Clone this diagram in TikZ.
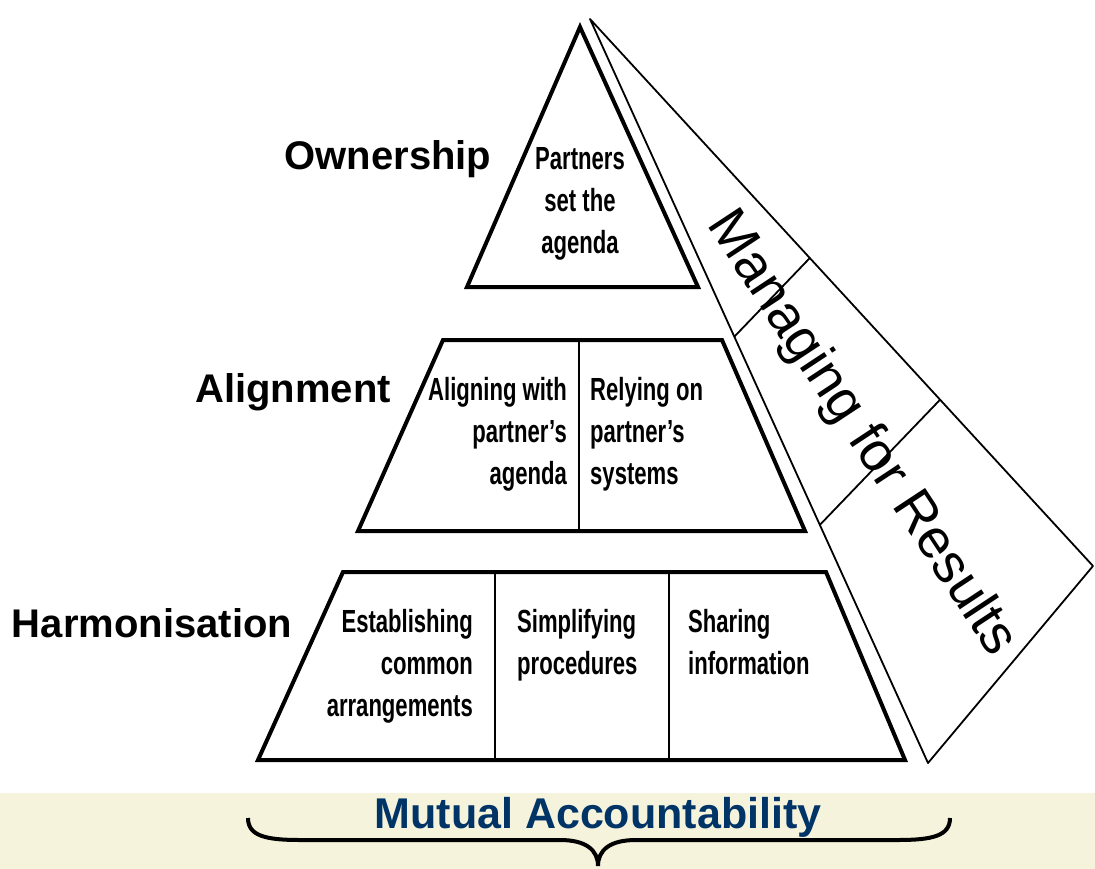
\documentclass[tikz,border=0pt]{standalone}
\usepackage{fontspec}
\setmainfont{Liberation Sans}
\newfontfamily\narrowbf[FakeStretch=0.69]{Liberation Sans Bold}
\usetikzlibrary{calc}
\definecolor{bandbg}{RGB}{245,243,220}
\definecolor{navy}{RGB}{0,51,102}
\tikzset{
  block/.style={line width=4pt},
  faceline/.style={line width=1.8pt},
  cell/.style={font=\narrowbf\fontsize{32}{42}\selectfont, inner sep=0pt},
  level/.style={font=\bfseries\fontsize{40}{48}\selectfont, inner sep=0pt, anchor=base},
}
\begin{document}
\begin{tikzpicture}[x=1pt,y=-1pt]
\useasboundingbox (0,0) rectangle (1095,869);
\fill[bandbg] (0,793) rectangle (1095,869);

% pyramid levels
\draw[block] (580,27) -- (698,287) -- (467,287) -- cycle;
\draw[block] (443,340) -- (722,340) -- (805,531) -- (358,531) -- cycle;
\draw[faceline] (579,340) -- (579,531);
\draw[block] (343,572) -- (826,572) -- (905,760) -- (258,760) -- cycle;
\draw[faceline] (495,572) -- (495,760) (669,572) -- (669,760);

% side face
\coordinate (top) at (590,19);
\coordinate (fl) at (928,763);
\coordinate (fr) at (1093,566);
\draw[faceline, line join=round] (top) -- (fl) -- (fr) -- cycle;
\draw[faceline] ($(top)!0.427!(fl)$) -- ($(top)!0.437!(fr)$);
\draw[faceline] ($(top)!0.680!(fl)$) -- ($(top)!0.696!(fr)$);
\node[font=\fontsize{55}{60}\selectfont, rotate=-56.6, inner sep=0pt] (mfr) at (861,434) {Managing for Results};

% level names
\node[level] (own) at (388,170) {Ownership};
\node[level] (ali) at (293,402) {Alignment};
\node[level] (har) at (152,637) {Harmonisation};

% cells
\node[cell, anchor=north, align=center] (partners) at (580,147) {Partners\\set the\\agenda};
\node[cell, anchor=north east, align=right] (aligning) at (567,377) {Aligning with\\partner’s\\agenda};
\node[cell, anchor=north west, align=left] (relying) at (590,377) {Relying on\\partner’s\\systems};
\node[cell, anchor=north east, align=right] (establish) at (473,609) {Establishing\\common\\arrangements};
\node[cell, anchor=north west, align=left] (simplify) at (517,609) {Simplifying\\procedures};
\node[cell, anchor=north west, align=left] (sharing) at (688,609) {Sharing\\information};

% mutual accountability
\node[font=\bfseries\fontsize{43}{50}\selectfont, text=navy, anchor=base, inner sep=0pt] (mutual) at (598,828) {Mutual Accountability};
\coordinate (bl) at (248,818);
\coordinate (br) at (950,818);
\coordinate (tip) at (598,866);
\draw[line width=4pt] (bl) .. controls (248,836) and (266,840) .. (300,840) -- (560,840)
  .. controls (586,840) and (598,850) .. (tip)
  .. controls (598,850) and (610,840) .. (636,840) -- (898,840)
  .. controls (932,840) and (950,836) .. (br);
\end{tikzpicture}
\end{document}
